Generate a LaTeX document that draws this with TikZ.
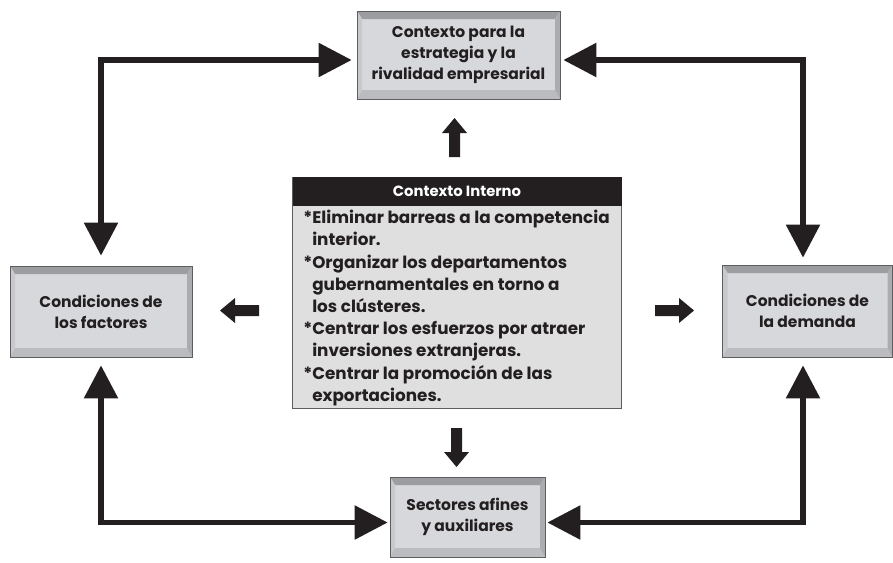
\documentclass[tikz,border=0pt]{standalone}
\usepackage{fontspec}
\setmainfont{Poppins}
\usetikzlibrary{arrows.meta}

\definecolor{ink}{HTML}{231F20}
\definecolor{facegray}{HTML}{D7D8DC}
\definecolor{edgegray}{HTML}{5E5E60}
\definecolor{bevtop}{HTML}{9C9DA1}
\definecolor{bevbot}{HTML}{BBBCC0}
\definecolor{bevleft}{HTML}{C8C9CD}
\definecolor{bevright}{HTML}{ABACB0}
\definecolor{panelgray}{HTML}{DFDFDF}

\newcommand\boxfont{\fontsize{15.5}{20.7}\selectfont\bfseries}
\newcommand\listfont{\fontsize{16.8}{22.2}\selectfont\bfseries}

\begin{document}
\begin{tikzpicture}[x=1pt,y=-1pt]
\useasboundingbox (0,0) rectangle (893,562);

\tikzset{
  bevelbox/.style={rectangle, draw=edgegray, line width=0.7pt, fill=facegray,
    align=center, inner sep=0pt, font=\boxfont, text=ink,
    path picture={
      % top bevel
      \fill[bevtop] (path picture bounding box.north west) -- (path picture bounding box.north east)
        -- ([shift={(-5pt,-8pt)}]path picture bounding box.north east)
        -- ([shift={(5pt,-8pt)}]path picture bounding box.north west) -- cycle;
      % bottom bevel
      \fill[bevbot] (path picture bounding box.south west) -- (path picture bounding box.south east)
        -- ([shift={(-5pt,9pt)}]path picture bounding box.south east)
        -- ([shift={(5pt,9pt)}]path picture bounding box.south west) -- cycle;
      % left bevel
      \fill[bevleft] (path picture bounding box.north west)
        -- ([shift={(5pt,-8pt)}]path picture bounding box.north west)
        -- ([shift={(5pt,9pt)}]path picture bounding box.south west)
        -- (path picture bounding box.south west) -- cycle;
      % right bevel
      \fill[bevright] (path picture bounding box.north east)
        -- ([shift={(-5pt,-8pt)}]path picture bounding box.north east)
        -- ([shift={(-5pt,9pt)}]path picture bounding box.south east)
        -- (path picture bounding box.south east) -- cycle;
    }},
  conn/.style={draw=ink, line width=5.5pt, line join=miter,
    {Triangle[length=33pt,width=33pt]}-{Triangle[length=33pt,width=33pt]}},
  blockarr/.pic={
    \fill[ink] (0,-5.5) -- (24,-5.5) -- (24,-12.5) -- (39,0) -- (24,12.5) -- (24,5.5) -- (0,5.5) -- cycle;
  },
}

% the four determinants
\node[bevelbox, minimum width=203pt, minimum height=88pt] (T) at (458.5,55)
  {Contexto para la\\estrategia y la\\rivalidad empresarial};
\node[bevelbox, minimum width=182pt, minimum height=91pt] (L) at (101,311.5)
  {Condiciones de\\los factores};
\node[bevelbox, minimum width=170pt, minimum height=92pt] (R) at (807.5,311)
  {Condiciones de\\la demanda};
\node[bevelbox, minimum width=155pt, minimum height=80pt] (B) at (467.5,517)
  {Sectores afines\\y auxiliares};

% central panel
\node[rectangle, draw=edgegray, line width=0.8pt, fill=panelgray,
  minimum width=329pt, minimum height=231pt, inner sep=0pt] (C) at (457,293) {};
\node[rectangle, fill=ink, anchor=north, minimum width=329pt, minimum height=29pt,
  inner sep=0pt, text=white, font=\fontsize{14.8}{16}\selectfont\bfseries] (H) at (C.north)
  {Contexto Interno};
\node[anchor=north west, align=left, inner sep=0pt, text=ink, font=\listfont] (I)
  at ([shift={(11pt,-33pt)}]C.north west)
  {*Eliminar barreas a la competencia\\
   \hphantom{*}interior.\\
   *Organizar los departamentos\\
   \hphantom{*}gubernamentales en torno a\\
   \hphantom{*}los clústeres.\\
   *Centrar los esfuerzos por atraer\\
   \hphantom{*}inversiones extranjeras.\\
   *Centrar la promoción de las\\
   \hphantom{*}exportaciones.};

% block arrows around the panel
\pic (aup) at (454.5,157) [rotate=90] {blockarr};
\pic (adown) at (456.5,428) [rotate=-90] {blockarr};
\pic (aleft) at (259,310.5) [rotate=180] {blockarr};
\pic (aright) at (655,310.5) {blockarr};

% connectors between the determinants
\draw[conn, shorten <=5pt, shorten >=10pt] ([yshift=-5pt]T.west) -| (L.north);
\draw[conn, shorten <=3pt, shorten >=7pt] ([yshift=-5pt]T.east) -| ([xshift=-4.5pt]R.north);
\draw[conn, shorten <=8pt, shorten >=2pt] (L.south) |- ([yshift=-5.5pt]B.west);
\draw[conn, shorten <=2pt, shorten >=8pt] ([yshift=-5.5pt]B.east) -| ([xshift=-4.5pt]R.south);
\end{tikzpicture}
\end{document}
